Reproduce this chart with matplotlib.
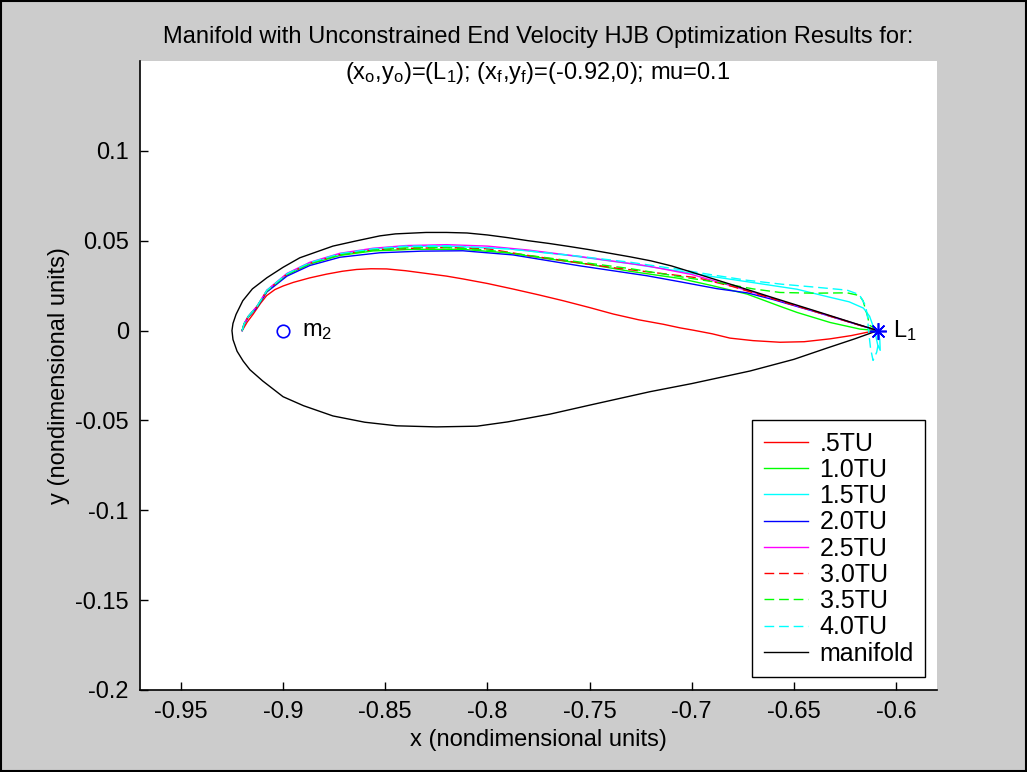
import numpy as np
import matplotlib
matplotlib.use("Agg")
from matplotlib import pyplot as plt
from matplotlib.patches import Rectangle

plt.rcParams["font.family"] = ["Liberation Sans", "DejaVu Sans"]
plt.rcParams["mathtext.default"] = "regular"

# %%
L1 = (-0.609, 0.0)
M2 = (-0.9, 0.0)

# closed manifold tube, upper branch then lower branch
manifold_x = [-0.609, -0.62, -0.64, -0.66, -0.68, -0.70, -0.71, -0.72, -0.73, -0.74,
              -0.75, -0.76, -0.77, -0.78, -0.79, -0.80, -0.81, -0.82, -0.83, -0.845,
              -0.8526, -0.865, -0.8756, -0.8918, -0.90, -0.9079, -0.915, -0.9197, -0.923,
              -0.9245, -0.925, -0.9245, -0.9225, -0.9195, -0.9162, -0.91, -0.90, -0.89,
              -0.8756, -0.86, -0.8443, -0.825, -0.8051, -0.79, -0.7694, -0.75, -0.7204,
              -0.70, -0.6715, -0.65, -0.634, -0.62, -0.609]
manifold_y = [0.0, 0.0039, 0.0111, 0.0182, 0.0254, 0.0325, 0.0360, 0.0388, 0.0410, 0.0430,
              0.0450, 0.0468, 0.0485, 0.0500, 0.0517, 0.0532, 0.0543, 0.0546, 0.0546, 0.0538,
              0.0527, 0.0497, 0.0470, 0.0405, 0.0352, 0.0294, 0.0232, 0.0166, 0.0090,
              0.0040, 0.0, -0.0050, -0.0115, -0.0170, -0.0218, -0.0280, -0.0368, -0.0418,
              -0.0475, -0.0510, -0.0530, -0.0536, -0.0532, -0.0508, -0.0465, -0.0415, -0.0340,
              -0.0295, -0.0225, -0.0160, -0.0098, -0.0045, 0.0]

x_05 = [-0.609, -0.6144, -0.622, -0.6323, -0.645, -0.6568, -0.67, -0.6813, -0.69, -0.6992,
        -0.7057, -0.7139, -0.726, -0.7384, -0.75, -0.7629, -0.775, -0.7874, -0.80, -0.8118,
        -0.82, -0.83, -0.84, -0.8493, -0.857, -0.864, -0.871, -0.8787, -0.887, -0.895,
        -0.90, -0.904, -0.908, -0.911, -0.9146, -0.9175, -0.92]
y_05 = [0.0, -0.0010, -0.0028, -0.0046, -0.0062, -0.0065, -0.0056, -0.0042, -0.0018, 0.0002,
        0.0015, 0.0035, 0.0060, 0.0092, 0.0128, 0.0166, 0.0199, 0.0231, 0.0262, 0.0287,
        0.0303, 0.0318, 0.0333, 0.0343, 0.0344, 0.0340, 0.0330, 0.0314, 0.0293, 0.0268,
        0.0248, 0.0228, 0.0195, 0.0152, 0.0092, 0.0048, 0.0]

x_10 = [-0.609, -0.6176, -0.6323, -0.6485, -0.6568, -0.6729, -0.69, -0.7058, -0.7303, -0.75,
        -0.7708, -0.79, -0.8120, -0.8364, -0.856, -0.8722, -0.8869, -0.8981, -0.9079, -0.9128,
        -0.917, -0.919, -0.92]
y_10 = [0.0, 0.0008, 0.0045, 0.0101, 0.0135, 0.0203, 0.025, 0.029, 0.033, 0.0368,
        0.04, 0.0432, 0.0452, 0.0452, 0.0443, 0.0418, 0.037, 0.031, 0.022, 0.0131,
        0.0078, 0.0038, 0.0]

x_15 = [-0.609, -0.608, -0.6078, -0.609, -0.6105, -0.613, -0.616, -0.623, -0.6323, -0.6485,
        -0.673, -0.6896, -0.7058, -0.73, -0.76, -0.79, -0.82, -0.84, -0.856, -0.8722,
        -0.8869, -0.8981, -0.9079, -0.9128, -0.917, -0.919, -0.92]
y_15 = [0.0, -0.005, -0.011, -0.008, 0.0, 0.008, 0.0125, 0.016, 0.0185, 0.023,
        0.0272, 0.03, 0.033, 0.0372, 0.0418, 0.0455, 0.047, 0.0468, 0.0453, 0.0425,
        0.0376, 0.0315, 0.0223, 0.0133, 0.0079, 0.0039, 0.0]

x_20 = [-0.609, -0.62, -0.64, -0.66, -0.6729, -0.6876, -0.705, -0.7219, -0.7547, -0.7875,
        -0.812, -0.832, -0.8526, -0.8722, -0.8869, -0.8981, -0.9079, -0.9128, -0.917, -0.919,
        -0.92]
y_20 = [0.0, 0.0037, 0.0106, 0.0172, 0.021, 0.0233, 0.027, 0.0305, 0.036, 0.0421,
        0.0444, 0.0442, 0.0433, 0.0408, 0.0362, 0.0303, 0.0215, 0.0128, 0.0075, 0.0037,
        0.0]

x_25 = [-0.609, -0.62, -0.64, -0.66, -0.68, -0.70, -0.7219, -0.7547, -0.78, -0.80,
        -0.82, -0.84, -0.856, -0.8722, -0.8869, -0.8981, -0.9079, -0.9128, -0.917, -0.919,
        -0.92]
y_25 = [0.0, 0.0038, 0.0108, 0.0178, 0.0247, 0.0312, 0.036, 0.0412, 0.0448, 0.047,
        0.0478, 0.0473, 0.0458, 0.043, 0.038, 0.0318, 0.0225, 0.0135, 0.008, 0.004,
        0.0]

x_30 = [-0.609, -0.62, -0.64, -0.66, -0.68, -0.6974, -0.7385, -0.779, -0.80, -0.82,
        -0.8364, -0.856, -0.8722, -0.8869, -0.8981, -0.9079, -0.9128, -0.917, -0.919, -0.92]
y_30 = [0.0, 0.0037, 0.0107, 0.0176, 0.0245, 0.0294, 0.035, 0.0416, 0.0455, 0.0462,
        0.0458, 0.045, 0.0423, 0.0374, 0.0313, 0.0222, 0.0132, 0.0078, 0.0039, 0.0]

x_35 = [-0.609, -0.613, -0.614, -0.6162, -0.618, -0.624, -0.64, -0.6568, -0.67, -0.6862,
        -0.7058, -0.7303, -0.7708, -0.80, -0.82, -0.84, -0.856, -0.8722, -0.8869, -0.8981,
        -0.9079, -0.9128, -0.917, -0.919, -0.92]
y_35 = [0.0, 0.003, 0.008, 0.0166, 0.0195, 0.021, 0.0208, 0.0212, 0.0232, 0.0266,
        0.03, 0.0345, 0.0405, 0.0448, 0.0462, 0.046, 0.0448, 0.0421, 0.0373, 0.0312,
        0.0221, 0.0132, 0.0078, 0.0039, 0.0]

x_40 = [-0.609, -0.6085, -0.6095, -0.6113, -0.6125, -0.6135, -0.614, -0.615, -0.618, -0.624,
        -0.64, -0.656, -0.673, -0.69, -0.706, -0.73, -0.76, -0.79, -0.82, -0.84,
        -0.856, -0.8722, -0.8869, -0.8981, -0.9079, -0.9128, -0.917, -0.919, -0.92]
y_40 = [0.0, -0.006, -0.012, -0.0166, -0.01, 0.0, 0.008, 0.014, 0.02, 0.0225,
        0.0242, 0.0258, 0.028, 0.031, 0.034, 0.038, 0.042, 0.0455, 0.0472, 0.047,
        0.0455, 0.0428, 0.0378, 0.0316, 0.0224, 0.0134, 0.0079, 0.0039, 0.0]

labels = [".5TU", "1.0TU", "1.5TU", "2.0TU", "2.5TU", "3.0TU", "3.5TU", "4.0TU", "manifold"]
xtick_vals = [-0.95, -0.9, -0.85, -0.8, -0.75, -0.7, -0.65, -0.6]
xtick_text = ["-0.95", "-0.9", "-0.85", "-0.8", "-0.75", "-0.7", "-0.65", "-0.6"]
ytick_vals = [-0.2, -0.15, -0.1, -0.05, 0, 0.05, 0.1]
ytick_text = ["-0.2", "-0.15", "-0.1", "-0.05", "0", "0.05", "0.1"]

# %%
FS = 17
DASH = (0, (7, 3.5))

fig = plt.figure(figsize=(10.27, 7.72), dpi=100, facecolor="#cccccc")
fig.patches.append(Rectangle((0.001, 0.001), 0.998, 0.998, transform=fig.transFigure,
                             fill=False, edgecolor="black", linewidth=1.5))
ax = fig.add_axes([140 / 1027, 82 / 772, 797 / 1027, 629 / 772])

ax.plot(x_05, y_05, color="red", lw=1.0)
ax.plot(x_10, y_10, color="lime", lw=1.0)
ax.plot(x_15, y_15, color="cyan", lw=1.0)
ax.plot(x_20, y_20, color="blue", lw=1.0)
ax.plot(x_25, y_25, color="magenta", lw=1.0)
ax.plot(x_30, y_30, color="red", lw=1.0, linestyle=DASH)
ax.plot(x_35, y_35, color="lime", lw=1.0, linestyle=DASH)
ax.plot(x_40, y_40, color="cyan", lw=1.0, linestyle=DASH)
ax.plot(manifold_x, manifold_y, color="black", lw=1.0)

ax.legend(labels, loc="lower right", bbox_to_anchor=(0.985, 0.0207), borderaxespad=0,
          fontsize=18, frameon=True, fancybox=False, edgecolor="black", framealpha=1,
          handlelength=1.76, handletextpad=0.48, labelspacing=0.09, borderpad=0.45)

# L1 as an asterisk, m2 as an open circle
ax.plot(L1[0], L1[1], marker=(8, 2, 0), color="blue", markersize=12, markeredgewidth=1.2)
ax.plot(M2[0], M2[1], marker="o", markerfacecolor="none", markeredgecolor="blue",
        markersize=9, markeredgewidth=1.2)
ax.text(-0.8905, 0.0, "m$_2$", fontsize=FS, va="center", ha="left")
ax.text(-0.6015, 0.0, "L$_1$", fontsize=FS, va="center", ha="left")

ax.set_xlim(-0.97, -0.58)
ax.set_ylim(-0.2, 0.15)
ax.set_xticks(xtick_vals)
ax.set_xticklabels(xtick_text)
ax.set_yticks(ytick_vals)
ax.set_yticklabels(ytick_text)
ax.tick_params(direction="in", length=6, width=1, labelsize=FS, pad=8)
ax.spines["top"].set_visible(False)
ax.spines["right"].set_visible(False)
ax.spines["left"].set_linewidth(1.2)
ax.spines["bottom"].set_linewidth(1.2)
ax.set_xlabel("x (nondimensional units)", fontsize=FS, labelpad=4)
ax.set_ylabel("y (nondimensional units)", fontsize=FS, labelpad=4)

fig.text(538 / 1027, 1 - 37 / 772, "Manifold with Unconstrained End Velocity HJB Optimization Results for:",
         fontsize=FS, ha="center", va="center")
fig.text(538 / 1027, 1 - 73 / 772, "(x$_o$,y$_o$)=(L$_1$); (x$_f$,y$_f$)=(-0.92,0); mu=0.1",
         fontsize=FS, ha="center", va="center")

plt.savefig("out.png", dpi=100, facecolor=fig.get_facecolor())
